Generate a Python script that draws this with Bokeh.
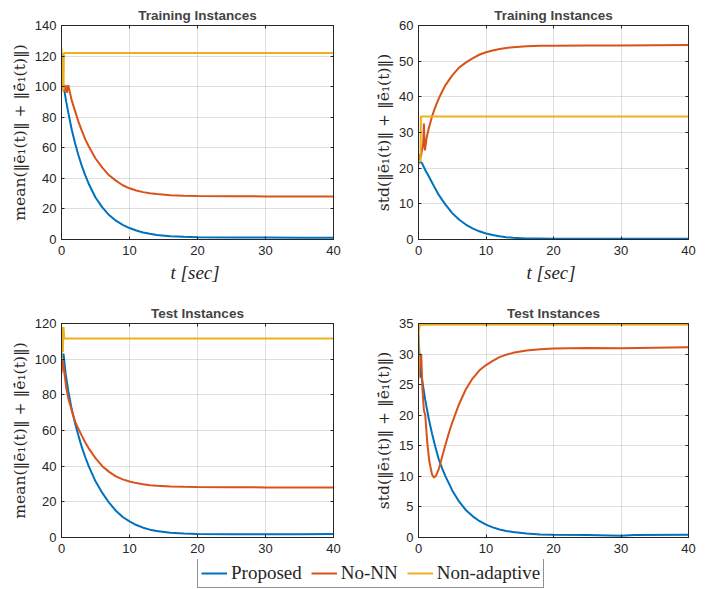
from bokeh.plotting import figure
from bokeh.models import Range1d, FixedTicker, LinearAxis, Legend, LegendItem
from bokeh.layouts import column, row
from bokeh.embed import file_html
from bokeh.resources import INLINE

# ---------------- data ----------------
series_names = ["Proposed", "No-NN", "Non-adaptive"]
series_colors = ["#0072BD", "#D95319", "#EDB120"]

# Training instances - mean
tr_mean_prop_t = [0, 0.2, 0.4, 0.7, 1, 1.5, 2, 2.5, 3, 3.5, 4, 5, 6, 7, 8, 9, 10, 11, 12, 13, 14, 16, 18, 20, 25, 30, 35, 40]
tr_mean_prop_y = [122, 103, 98, 90, 83, 72, 63, 55, 48, 42, 36.5, 27.5, 21, 16, 12.3, 9.6, 7.5, 5.9, 4.6, 3.7, 3.0, 2.2, 1.8, 1.5, 1.3, 1.3, 1.2, 1.2]
tr_mean_nonn_t = [0, 0.2, 0.4, 0.6, 0.8, 1.0, 1.5, 2, 2.5, 3, 3.5, 4, 5, 6, 7, 8, 9, 10, 11, 12, 13, 14, 16, 18, 20, 25, 30, 35, 40]
tr_mean_nonn_y = [97, 100, 97, 101, 96, 101, 91, 84, 77, 71, 65.5, 61, 53, 47, 42, 38.5, 35.5, 33.5, 32.1, 31, 30.3, 29.8, 29, 28.7, 28.5, 28.3, 28.2, 28.2, 28.2]
tr_mean_nona_t = [0, 0.1, 0.3, 0.35, 40]
tr_mean_nona_y = [125, 98, 98, 122, 122]

# Training instances - std
tr_std_prop_t = [0, 0.5, 1, 1.5, 2, 2.5, 3, 3.5, 4, 5, 6, 7, 8, 9, 10, 11, 12, 13, 14, 16, 18, 20, 25, 30, 35, 40]
tr_std_prop_y = [22, 21.5, 19.5, 17.8, 16, 14.2, 12.5, 11.1, 9.8, 7.4, 5.6, 4.2, 3.1, 2.3, 1.7, 1.25, 0.9, 0.65, 0.5, 0.3, 0.25, 0.2, 0.2, 0.2, 0.2, 0.2]
tr_std_nonn_t = [0, 0.2, 0.35, 0.5, 0.7, 0.8, 0.9, 0.95, 1.2, 1.5, 2, 2.5, 3, 3.5, 4, 5, 6, 7, 8, 9, 10, 11, 12, 13, 14, 16, 18, 20, 25, 30, 40]
tr_std_nonn_y = [21, 24, 23, 25, 27, 32.5, 26, 25, 28.5, 31, 34.5, 37.2, 39.5, 41.5, 43.3, 46, 48.2, 49.6, 50.8, 51.8, 52.5, 53.0, 53.4, 53.7, 53.9, 54.2, 54.3, 54.35, 54.4, 54.4, 54.5]
tr_std_nona_t = [0, 0.3, 0.35, 40]
tr_std_nona_y = [22, 22, 34.5, 34.5]

# Test instances - mean
te_mean_prop_t = [0, 0.3, 0.6, 1.0, 1.5, 2, 2.5, 3, 3.5, 4, 5, 6, 7, 8, 9, 10, 11, 12, 13, 14, 16, 18, 20, 25, 30, 35, 40]
te_mean_prop_y = [101, 103, 92, 82, 72, 64, 57, 50.5, 45, 40, 31.5, 25, 19.5, 15, 11.5, 9, 7, 5.5, 4.4, 3.6, 2.7, 2.2, 2.0, 1.8, 1.8, 1.8, 1.9]
te_mean_nonn_t = [0, 0.15, 0.3, 0.5, 0.7, 1.0, 1.3, 1.6, 2, 2.5, 3, 3.5, 4, 5, 6, 7, 8, 9, 10, 11, 12, 13, 14, 16, 18, 20, 25, 30, 40]
te_mean_nonn_y = [92, 100, 96, 90, 84, 78, 74, 70, 65, 60.8, 57, 53.3, 50, 44.5, 40, 36.8, 34.3, 32.6, 31.4, 30.5, 29.8, 29.3, 29, 28.6, 28.4, 28.3, 28.2, 28.1, 28.0]
te_mean_nona_t = [0, 0.1, 0.2, 0.3, 0.4, 40]
te_mean_nona_y = [100, 118, 104, 118, 111.6, 111.6]

# Test instances - std
te_std_prop_t = [0, 0.3, 0.5, 1, 1.5, 2, 2.5, 3, 3.5, 4, 5, 6, 7, 8, 9, 10, 11, 12, 13, 14, 16, 18, 20, 25, 30, 32, 40]
te_std_prop_y = [33, 26.5, 26, 22.5, 19.5, 17, 14.8, 12.8, 11.3, 10, 7.7, 5.9, 4.5, 3.5, 2.7, 2.1, 1.65, 1.3, 1.05, 0.9, 0.65, 0.5, 0.45, 0.4, 0.3, 0.4, 0.45]
te_std_nonn_t = [0, 0.2, 0.4, 0.6, 0.8, 1.0, 1.3, 1.6, 2.0, 2.3, 2.6, 3, 3.5, 4, 4.5, 5, 6, 7, 8, 9, 10, 11, 12, 13, 14, 16, 18, 20, 25, 30, 35, 40]
te_std_nonn_y = [26, 29, 30, 24, 20.8, 20, 15.5, 12.5, 10.3, 9.8, 10.1, 11.2, 13.2, 15.2, 17.1, 18.8, 21.8, 24.2, 26, 27.3, 28.2, 28.9, 29.5, 29.9, 30.2, 30.6, 30.8, 30.9, 31.0, 30.95, 31.05, 31.1]
te_std_nona_t = [0, 0.05, 0.1, 0.2, 40]
te_std_nona_y = [26, 35, 34, 34.8, 34.8]

x_ticks = [0, 10, 20, 30, 40]
ylabel_mean = "mean(\u2016\u0113\u2081(t)\u2016 + \u2016e\u0304\u0307\u2081(t)\u2016)"
ylabel_std = "std(\u2016\u0113\u2081(t)\u2016 + \u2016e\u0304\u0307\u2081(t)\u2016)"
xlabel = "t  [sec]"

AX = "#262626"
SANS = "Liberation Sans"
SERIF = "Liberation Serif"
YSERIF = "DejaVu Serif"


def panel(title, ylabel, ymax, ystep, data, width, height, bl, br, bt, bb, with_xlabel):
    p = figure(width=width, height=height, x_range=Range1d(0, 40), y_range=Range1d(0, ymax),
               output_backend="svg", toolbar_location=None,
               min_border_left=bl, min_border_right=br, min_border_top=bt, min_border_bottom=bb)
    yt = list(range(0, ymax + 1, ystep))
    p.xaxis.ticker = FixedTicker(ticks=x_ticks)
    p.yaxis.ticker = FixedTicker(ticks=yt)
    for ax in (p.xaxis[0], p.yaxis[0]):
        ax.major_tick_in = 3
        ax.major_tick_out = 0
        ax.minor_tick_line_color = None
        ax.axis_line_color = AX
        ax.major_tick_line_color = AX
        ax.major_label_text_font = SANS
        ax.major_label_text_font_size = "13px"
        ax.major_label_text_color = AX
    p.xaxis.major_label_standoff = 6
    p.yaxis.major_label_standoff = 5
    p.yaxis.axis_label = ylabel
    p.yaxis.axis_label_text_font = YSERIF
    p.yaxis.axis_label_text_font_style = "normal"
    p.yaxis.axis_label_text_font_size = "15.5px"
    p.yaxis.axis_label_text_color = AX
    p.yaxis.axis_label_standoff = 3
    if with_xlabel:
        p.xaxis.axis_label = xlabel
        p.xaxis.axis_label_text_font = SERIF
        p.xaxis.axis_label_text_font_style = "italic"
        p.xaxis.axis_label_text_font_size = "19px"
        p.xaxis.axis_label_text_color = AX
        p.xaxis.axis_label_standoff = 4
    # box ticks on the right and top (no labels)
    for side, tk in (("right", yt), ("above", x_ticks)):
        a = LinearAxis(ticker=FixedTicker(ticks=tk), major_tick_in=3, major_tick_out=0,
                       minor_tick_line_color=None, major_label_text_font_size="0px",
                       major_label_text_color=None,
                       major_label_standoff=0, axis_line_color=AX, major_tick_line_color=AX)
        p.add_layout(a, side)
    p.outline_line_color = AX
    p.grid.grid_line_color = AX
    p.grid.grid_line_alpha = 0.15
    p.title.text = title
    p.title.align = "center"
    p.title.text_font = SANS
    p.title.text_font_size = "13.5px"
    p.title.text_font_style = "bold"
    p.title.standoff = 5
    for (tx, ty), c in zip(data, series_colors):
        p.line(tx, ty, line_color=c, line_width=2)
    return p


W1, W2 = 353, 357
H1, H2 = 290, 269

p1 = panel("Training Instances", ylabel_mean, 140, 20,
           [(tr_mean_prop_t, tr_mean_prop_y), (tr_mean_nonn_t, tr_mean_nonn_y), (tr_mean_nona_t, tr_mean_nona_y)],
           W1, H1, 61, 20, 25, 51, True)
p2 = panel("Training Instances", ylabel_std, 60, 10,
           [(tr_std_prop_t, tr_std_prop_y), (tr_std_nonn_t, tr_std_nonn_y), (tr_std_nona_t, tr_std_nona_y)],
           W2, H1, 65, 22, 25, 51, True)
p3 = panel("Test Instances", ylabel_mean, 120, 20,
           [(te_mean_prop_t, te_mean_prop_y), (te_mean_nonn_t, te_mean_nonn_y), (te_mean_nona_t, te_mean_nona_y)],
           W1, H2, 61, 20, 33, 22, False)
p4 = panel("Test Instances", ylabel_std, 35, 5,
           [(te_std_prop_t, te_std_prop_y), (te_std_nonn_t, te_std_nonn_y), (te_std_nona_t, te_std_nona_y)],
           W2, H2, 65, 22, 33, 22, False)

# legend strip
leg = figure(width=W1 + W2, height=30, output_backend="svg", toolbar_location=None,
             x_range=Range1d(0, 1), y_range=Range1d(0, 1), min_border=0)
leg.axis.visible = False
leg.grid.visible = False
leg.outline_line_color = None
items = []
for name, c in zip(series_names, series_colors):
    r = leg.line([float("nan")], [float("nan")], line_color=c, line_width=2)
    items.append(LegendItem(label=name, renderers=[r]))
legend = Legend(items=items, orientation="horizontal", location=(197, 1),
                padding=3, spacing=9, margin=0, glyph_width=26, glyph_height=20,
                label_standoff=4, label_text_font=SERIF, label_text_font_size="19px",
                label_text_color=AX, border_line_color=AX, border_line_width=1,
                background_fill_color="white", background_fill_alpha=1)
leg.add_layout(legend, "center")

layout = column(row(p1, p2), row(p3, p4), leg)
open("out.html", "w").write(file_html(layout, INLINE))
